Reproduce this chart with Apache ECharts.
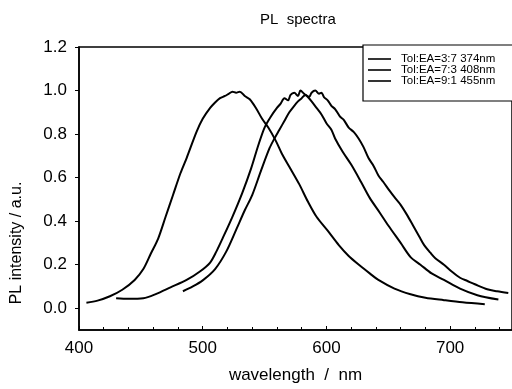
<!DOCTYPE html>
<html>
<head>
<meta charset="utf-8">
<script src="https://cdn.jsdelivr.net/npm/echarts@6/dist/echarts.min.js"></script>
<style>html,body{margin:0;padding:0;background:#fff}#c{width:512px;height:389px}</style>
</head>
<body>
<div id="c"></div>
<script>
// Data (wavelength nm, PL intensity a.u.)
const seriesNames = ['Tol:EA=3:7 374nm', 'Tol:EA=7:3 408nm', 'Tol:EA=9:1 455nm'];
const curveA = [[406,0.025],[415,0.035],[425,0.055],[435,0.085],[445,0.13],[452,0.18],[458,0.25],[464,0.32],[470,0.42],[476,0.52],[482,0.62],[487,0.69],[495,0.81],[500,0.87],[506,0.92],[510,0.945],[514,0.965],[518,0.975],[521,0.985],[524,0.995],[527,0.99],[530,0.995],[534,0.975],[538,0.96],[543,0.92],[548,0.87],[553,0.83],[559,0.77],[564,0.71],[570,0.65],[578,0.57],[585,0.49],[592,0.42],[601,0.356],[610,0.29],[618,0.24],[627,0.196],[635,0.16],[642,0.13],[655,0.09],[668,0.064],[680,0.048],[695,0.037],[710,0.027],[728,0.018]];
const curveB = [[430,0.046],[440,0.043],[452,0.046],[462,0.065],[474,0.096],[487,0.13],[498,0.17],[506,0.21],[511,0.26],[516,0.32],[524,0.42],[532,0.53],[539,0.64],[545,0.75],[550,0.83],[555,0.88],[560,0.92],[563,0.94],[566,0.965],[569,0.955],[571,0.98],[574,0.99],[577,0.975],[579,1.0],[582,0.985],[585,0.97],[588,0.95],[592,0.92],[596,0.89],[600,0.85],[604,0.82],[607,0.78],[613,0.72],[620,0.66],[628,0.58],[635,0.507],[643,0.44],[650,0.38],[660,0.30],[668,0.235],[676,0.20],[685,0.16],[695,0.13],[708,0.09],[722,0.06],[739,0.04]];
const curveC = [[484,0.078],[492,0.10],[500,0.128],[510,0.18],[519,0.26],[527,0.36],[534,0.45],[540,0.52],[547,0.63],[554,0.735],[558,0.78],[562,0.82],[566,0.86],[570,0.90],[574,0.93],[577,0.95],[580,0.965],[583,0.98],[586,0.97],[588,0.99],[591,1.0],[594,0.985],[596,0.99],[598,0.97],[601,0.955],[604,0.93],[607,0.915],[611,0.88],[614,0.865],[618,0.83],[622,0.81],[626,0.78],[630,0.74],[634,0.69],[638,0.655],[642,0.61],[646,0.58],[651,0.54],[655,0.51],[660,0.475],[665,0.43],[670,0.38],[675,0.33],[679,0.29],[684,0.255],[688,0.23],[695,0.20],[701,0.17],[708,0.14],[714,0.125],[720,0.11],[730,0.087],[738,0.078],[747,0.07]];
const xTicks = [400, 500, 600, 700];
const yTicks = [0.0, 0.2, 0.4, 0.6, 0.8, 1.0, 1.2];

const FONT = '"Liberation Sans", Arial, sans-serif';
const chart = echarts.init(document.getElementById('c'), null, {renderer: 'canvas'});
const mk = (name, data) => ({
  name, type: 'line', data, symbol: 'none', smooth: 0.3,
  lineStyle: {color: '#000', width: 2}, itemStyle: {color: '#000'},
  emphasis: {disabled: true}, animation: false
});
chart.setOption({
  animation: false,
  backgroundColor: '#fff',
  title: {
    text: 'PL  spectra', left: 255, top: 7,
    textStyle: {fontFamily: FONT, fontSize: 15, fontWeight: 'normal', color: '#000'}
  },
  grid: {left: 79, top: 47, width: 437, height: 285, show: true, borderColor: '#000', borderWidth: 1.5, containLabel: false},
  legend: {
    orient: 'vertical', left: 363, top: 45,
    data: seriesNames.map(n => ({name: n, icon: 'rect'})),
    itemWidth: 23, itemHeight: 1.6, itemGap: -1,
    padding: [8, 30, 14, 5],
    borderColor: '#000', borderWidth: 1.2, backgroundColor: '#fff',
    textStyle: {fontFamily: FONT, fontSize: 11.5, color: '#000', lineHeight: 12, padding: [0, 0, 0, 5]}
  },
  xAxis: {
    type: 'value', min: 400, max: 750, interval: 100,
    axisLine: {show: true, onZero: false, lineStyle: {color: '#000', width: 1.5}},
    axisTick: {show: true, inside: true, length: 4, lineStyle: {color: '#000'}},
    minorTick: {show: true, splitNumber: 5, length: 3, lineStyle: {color: '#000'}},
    splitLine: {show: false},
    axisLabel: {
      customValues: xTicks, fontFamily: FONT, fontSize: 17, color: '#000', margin: 10,
      formatter: v => String(v)
    },
    name: 'wavelength  /  nm', nameLocation: 'middle', nameGap: 37,
    nameTextStyle: {fontFamily: FONT, fontSize: 17, color: '#000'}
  },
  yAxis: {
    type: 'value', min: -0.1, max: 1.2,
    axisLine: {show: true, onZero: false, lineStyle: {color: '#000', width: 1.5}},
    axisTick: {show: true, inside: false, length: 4, customValues: yTicks, lineStyle: {color: '#000'}},
    splitLine: {show: false},
    axisLabel: {
      customValues: yTicks, fontFamily: FONT, fontSize: 17, color: '#000', margin: 12,
      formatter: v => Number(v).toFixed(1)
    }
  },
  graphic: [{
    type: 'text', x: 17, y: 243, rotation: Math.PI / 2,
    style: {text: 'PL intensity / a.u.', fontFamily: FONT, fontSize: 16, fill: '#000', align: 'center', verticalAlign: 'middle'}
  }],
  series: [mk(seriesNames[0], curveA), mk(seriesNames[1], curveB), mk(seriesNames[2], curveC)]
});
</script>
</body>
</html>
